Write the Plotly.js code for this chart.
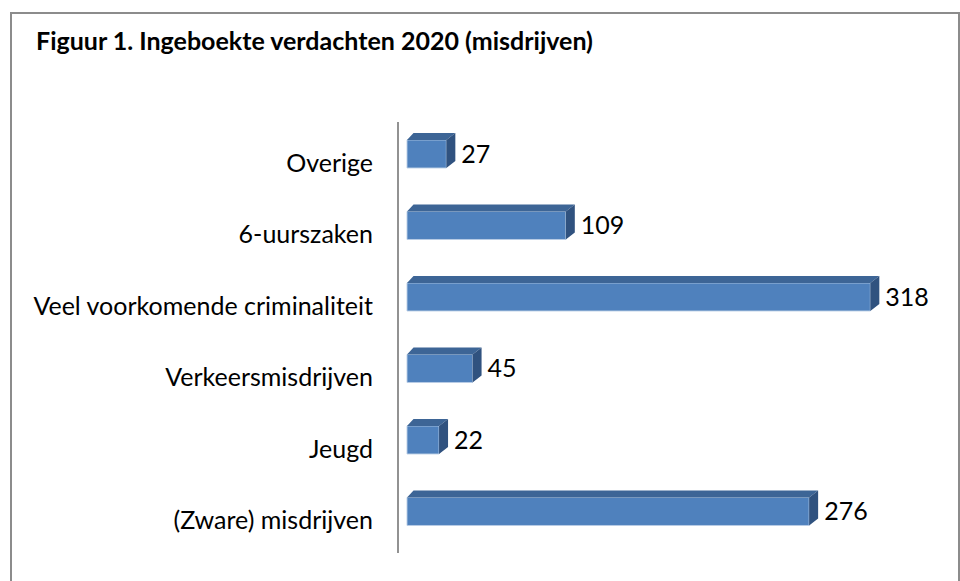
<!DOCTYPE html>
<html>
<head>
<meta charset="utf-8">
<script src="https://cdn.plot.ly/plotly-3.0.1.min.js"></script>
<style>
  html, body { margin: 0; padding: 0; background: #fff; }
  #wrap { position: relative; width: 960px; height: 581px; overflow: hidden; }
  #chart { position: absolute; left: 0; top: 0; width: 960px; height: 581px; }
  #frame { position: absolute; left: 10px; top: 12px; width: 946px; height: 620px;
           border: 2px solid #8c8c8c; pointer-events: none; }
</style>
</head>
<body>
<div id="wrap">
  <div id="chart"></div>
  <div id="frame"></div>
</div>
<script>
// ---- data (top to bottom, as in the figure) ----
const categories = ['Overige', '6-uurszaken', 'Veel voorkomende criminaliteit',
                    'Verkeersmisdrijven', 'Jeugd', '(Zware) misdrijven'];
const values = [27, 109, 318, 45, 22, 276];
const titleText = 'Figuur 1. Ingeboekte verdachten 2020 (misdrijven)';

// ---- geometry / style constants ----
const FONT = 'Lato, "Open Sans", sans-serif';
const pxPerUnitX = 1.457;          // horizontal scale (px per unit)
const pxPerUnitY = 71.5;           // vertical scale (px per category)
const barShift = -0.126;           // bar centre offset from tick (category units)
const barHalf = 0.196;             // half height of bar front face
const depthY = 7 / pxPerUnitY;     // 3D depth up
const depthXR = 9 / pxPerUnitX;    // 3D depth right (far end)
const depthXL = 6.5 / pxPerUnitX;  // 3D depth right (near axis)

const idx = categories.map((_, i) => i);
const barY = idx.map(i => i + barShift);

// front faces
const front = {
  type: 'bar', orientation: 'h',
  x: values, y: barY, width: barHalf * 2,
  marker: { color: '#4F81BD', line: { color: 'rgba(185,205,230,0.9)', width: 1 } },
  hoverinfo: 'skip', showlegend: false
};

// top faces & side faces as polygons through the same axes
const topX = [], topY = [], sideX = [], sideY = [];
values.forEach((v, i) => {
  const yt = barY[i] - barHalf, yb = barY[i] + barHalf;
  topX.push(0, v, v + depthXR, depthXL, 0, null);
  topY.push(yt, yt, yt - depthY, yt - depthY, yt, null);
  sideX.push(v, v + depthXR, v + depthXR, v, v, null);
  sideY.push(yt, yt - depthY, yb - depthY, yb, yt, null);
});
const topFace = {
  type: 'scatter', mode: 'lines', x: topX, y: topY, fill: 'toself',
  fillcolor: '#3D6596', line: { width: 0, color: '#3D6596' },
  hoverinfo: 'skip', showlegend: false
};
const sideFace = {
  type: 'scatter', mode: 'lines', x: sideX, y: sideY, fill: 'toself',
  fillcolor: '#30527F', line: { width: 0, color: '#30527F' },
  hoverinfo: 'skip', showlegend: false
};

// value labels
const labels = {
  type: 'scatter', mode: 'text',
  x: values.map(v => v + 15 / pxPerUnitX),
  y: barY.map(y => y + 0.035),
  text: values.map(String),
  textposition: 'middle right',
  textfont: { family: FONT, size: 25, color: '#000' },
  hoverinfo: 'skip', showlegend: false, cliponaxis: false
};

const L = 399, R = 945, T = 122, B = 553;
const firstTick = 0.573;
const layout = {
  width: 960, height: 581,
  margin: { l: L, r: 960 - R, t: T, b: 581 - B, pad: 0 },
  paper_bgcolor: 'rgba(0,0,0,0)', plot_bgcolor: 'rgba(0,0,0,0)',
  title: {
    text: titleText, xref: 'container', yref: 'container',
    x: 36 / 960, xanchor: 'left', y: 1 - 41 / 581, yanchor: 'middle',
    font: { family: FONT, size: 25, color: '#000', weight: 'bold' }
  },
  xaxis: {
    range: [-(8 / pxPerUnitX), (R - 407) / pxPerUnitX],
    showgrid: false, zeroline: false, showticklabels: false, showline: false, ticks: '',
    fixedrange: true
  },
  yaxis: {
    range: [-firstTick + (B - T) / pxPerUnitY, -firstTick],
    tickmode: 'array', tickvals: idx, ticktext: categories,
    showgrid: false, zeroline: false, showline: true,
    linecolor: '#929292', linewidth: 2, ticks: '',
    ticklabelstandoff: 19,
    tickfont: { family: FONT, size: 25, color: '#000' },
    fixedrange: true
  },
  bargap: 0
};

Plotly.newPlot('chart', [front, topFace, sideFace, labels], layout,
  { displayModeBar: false, staticPlot: true });
</script>
</body>
</html>
